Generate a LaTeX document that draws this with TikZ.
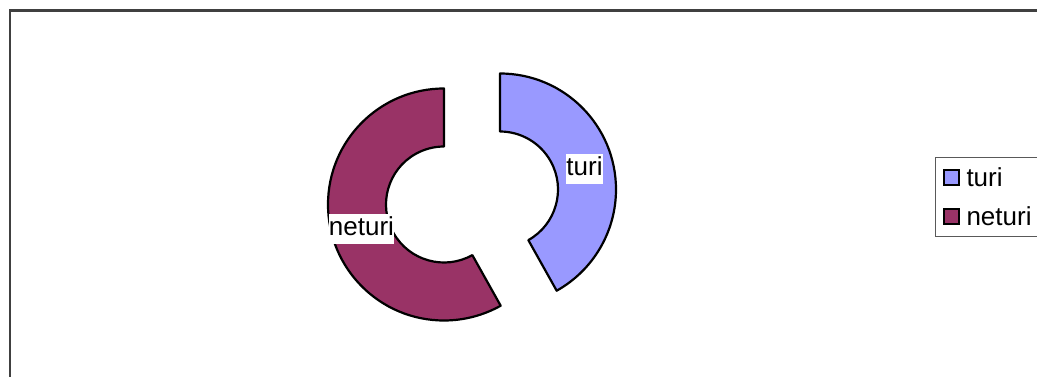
\documentclass[tikz,border=0pt]{standalone}
\usepackage{fontspec}
\setmainfont{Liberation Sans}
\usepackage{tikz}
\usetikzlibrary{positioning}
\definecolor{turicol}{HTML}{9999FF}
\definecolor{neturicol}{HTML}{993366}
\begin{document}
\begin{tikzpicture}[x=1pt,y=1pt]
        \useasboundingbox (0,0) rectangle (1037,376);
        \tikzstyle{slice}=[draw=black,line width=2.2pt,line join=round]
        \tikzstyle{lbl}=[fill=white,inner xsep=0pt,inner ysep=1.5pt,text height=20pt,text depth=7pt,font=\fontsize{26}{28}\selectfont]
        \tikzstyle{key}=[draw=black,line width=2.2pt,minimum size=15pt,inner sep=0pt]
        \tikzstyle{keytext}=[inner sep=0pt,text height=19pt,text depth=1pt,font=\fontsize{26}{28}\selectfont]
        % frame
        \coordinate (ftl) at (9.5,365.5);
        \draw[black!75,line width=2pt] (1045,365.5) -- (ftl) -- (9.5,-10);
        % donut slices
        \coordinate (cturi) at (500,186.5);
        \coordinate (cneturi) at (444,171.5);
        \draw[slice,fill=turicol] ([shift={(90:116)}]cturi) arc[start angle=90,end angle=-60.75,radius=116]
          -- ([shift={(-60.75:58)}]cturi) arc[start angle=-60.75,end angle=90,radius=58] -- cycle;
        \draw[slice,fill=neturicol] ([shift={(90:116)}]cneturi) arc[start angle=90,end angle=299.25,radius=116]
          -- ([shift={(299.25:58)}]cneturi) arc[start angle=299.25,end angle=90,radius=58] -- cycle;
        \node[lbl,anchor=base] (lturi) at (584.5,201) {turi};
        \node[lbl,anchor=base] (lneturi) at (361.5,141) {neturi};
        % legend
        \node[draw=black!65,line width=1.3pt,anchor=north west,minimum width=120pt,minimum height=79pt] (legend) at (935,219.3) {};
        \node[key,fill=turicol] (kturi) at (951.7,198.3) {};
        \node[key,fill=neturicol] (kneturi) at (951.7,159.3) {};
        \node[keytext,right=6pt of kturi] (tturi) {turi};
        \node[keytext,right=6pt of kneturi] (tneturi) {neturi};
      \end{tikzpicture}
\end{document}
